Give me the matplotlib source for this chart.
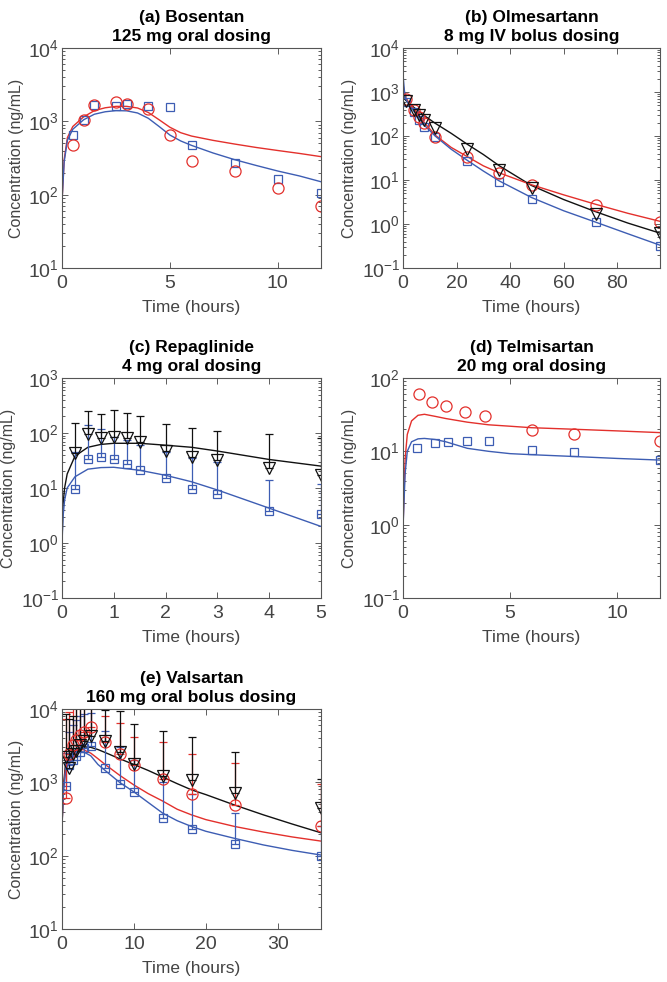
import numpy as np
import matplotlib
matplotlib.use("Agg")
import matplotlib.pyplot as plt
from matplotlib.ticker import LogLocator, NullFormatter

plt.rcParams['font.family'] = ['Liberation Sans', 'DejaVu Sans']
plt.rcParams['mathtext.fontset'] = 'custom'
plt.rcParams['mathtext.rm'] = 'Liberation Sans'

BLUE = '#3D5DB3'
RED = '#E3302C'
BLACK = '#111111'
GREY = '#444444'

# (a) Bosentan
a_t = [0.5, 1, 1.5, 2.5, 3, 4, 5, 6, 8, 10, 12]
a_blue = [650, 1050, 1650, 1600, 1700, 1600, 1550, 480, 270, 165, 105]
a_red = [470, 1050, 1650, 1850, 1700, 1450, 660, 290, 210, 125, 70]
a_line_t = [0, 0.1, 0.25, 0.5, 1, 1.5, 2, 2.5, 3, 3.5, 4, 4.5, 5, 5.5, 6, 7, 8, 9, 10, 11, 12]
a_line_red = [80, 300, 600, 850, 1150, 1400, 1530, 1600, 1600, 1520, 1320, 1050, 830, 700,
              630, 550, 490, 440, 400, 365, 330]
a_line_blue = [80, 280, 550, 780, 1050, 1250, 1350, 1400, 1390, 1300, 1100, 850, 650, 540,
               470, 370, 300, 250, 210, 180, 150]

# (b) Olmesartan
b_t = [1, 4, 6, 8, 12, 24, 36, 48, 72, 96]
b_blue = [600, 357, 231, 163, 97, 27, 9.2, 3.7, 1.13, 0.31]
b_red = [680, 395, 275, 200, 97, 34, 14.2, 7.7, 2.7, 1.13]
b_black = [635, 390, 300, 231, 150, 50, 16.9, 6.5, 1.7, 0.61]
b_line_t = [0, 0.5, 1, 2, 4, 6, 8, 12, 18, 24, 30, 36, 48, 60, 72, 84, 96]
b_line_blue = [2500, 1100, 700, 550, 370, 250, 175, 100, 50, 28, 16, 9.5, 4, 2, 1.1, 0.6, 0.33]
b_line_red = [1500, 1000, 760, 600, 420, 290, 200, 105, 55, 34, 21, 14.5, 7.8, 4.6, 2.8, 1.75, 1.15]
b_line_black = [800, 720, 650, 570, 450, 360, 290, 195, 115, 65, 38, 21, 7.5, 3.6, 1.9, 1.05, 0.62]

# (c) Repaglinide
c_t = [0.25, 0.5, 0.75, 1, 1.25, 1.5, 2, 2.5, 3, 4, 5]
c_blue = [9.5, 34, 37, 33, 27, 21, 15, 9.5, 7.7, 3.8, 3.3]
c_blue_up = [45, 140, 117, 85, 75, 60, 45, 35, 30, 14, 12]
c_black = [44, 96, 80, 83, 82, 68, 47, 36, 32, 23, 17]
c_black_up = [150, 251, 221, 262, 231, 206, 148, 122, 109, 94, 80]
c_line_t = [0, 0.02, 0.05, 0.1, 0.25, 0.5, 0.75, 1, 1.5, 2, 2.5, 3, 4, 5]
c_line_black = [1, 5, 10, 18, 38, 55, 62, 65, 65, 60, 55, 47, 33, 25]
c_line_blue = [1, 3, 6, 10, 16, 22, 23.5, 23.8, 21, 17, 13, 9.2, 4.3, 2.0]

# (d) Telmisartan
d_t_red = [0.75, 1.35, 2, 2.9, 3.85, 6, 8, 12]
d_red = [60, 47.5, 41.5, 34.5, 30, 19.5, 17, 14]
d_t_blue = [0.65, 1.5, 2.1, 3, 4, 6, 8, 12]
d_blue = [11.2, 12.9, 13.3, 13.8, 13.8, 10.4, 9.8, 7.6]
d_line_t = [0, 0.1, 0.2, 0.4, 0.7, 1, 1.5, 2, 3, 4, 5, 6, 8, 10, 12]
d_line_red = [0.9, 8, 17, 26, 31, 32, 30, 28, 25, 23, 22, 21, 20, 19, 18]
d_line_blue = [0.9, 5, 10, 13.5, 14.8, 15, 14.5, 13.5, 11, 10, 9.3, 9, 8.5, 8, 7.6]

# (e) Valsartan
e_t = [0.5, 1, 1.5, 2, 2.5, 3, 4, 6, 8, 10, 14, 18, 24, 36]
e_blue = [900, 1700, 2000, 2300, 2600, 2900, 3100, 1570, 950, 730, 326, 228, 144, 99]
e_blue_up = [2500, 4900, 6000, 7000, 8000, 8500, 8700, 5000, 3000, 2000, 1000, 700, 378, 250]
e_red = [620, 2400, 3200, 3800, 4400, 4900, 5700, 3600, 2430, 1700, 1100, 686, 490, 253]
e_red_up = [7300, 9000, 12000, 15000, 14000, 13000, 11000, 8100, 6400, 4100, 3500, 2400, 1850, 950]
e_black = [2230, 1550, 2400, 2700, 3200, 3700, 4300, 3700, 2560, 1800, 1220, 1070, 720, 440]
e_black_up = [8500, 7300, 8000, 12000, 13000, 14000, 15000, 9700, 9500, 6200, 5000, 4200, 2600, 1100]
e_line_t = [0, 0.2, 0.5, 1, 1.5, 2, 2.5, 3, 4, 5, 6, 8, 10, 12, 14, 16, 18, 20, 24, 28, 32, 36]
e_line_black = [250, 900, 1800, 2300, 2600, 2850, 3000, 3050, 3000, 2800, 2550, 2100, 1750,
                1450, 1180, 960, 790, 680, 490, 360, 270, 205]
e_line_red = [250, 800, 1600, 2100, 2450, 2700, 2800, 2780, 2500, 2100, 1750, 1250, 920, 700,
              555, 430, 360, 310, 250, 210, 180, 158]
e_line_blue = [250, 750, 1400, 1900, 2250, 2500, 2620, 2600, 2300, 1750, 1450, 1000, 740, 530,
               380, 300, 250, 215, 172, 140, 118, 102]

W, H = 667, 982
fig = plt.figure(figsize=(W / 100, H / 100), dpi=100)


def make_ax(left, top, right, bottom):
    return fig.add_axes([left / W, 1 - bottom / H, (right - left) / W, (bottom - top) / H])


def style(ax, title, xlim, ylim, xticks):
    ax.set_yscale('log')
    ax.set_xlim(*xlim)
    ax.set_ylim(*ylim)
    ax.set_xticks(xticks)
    ax.yaxis.set_major_locator(LogLocator(base=10, numticks=10))
    ax.yaxis.set_minor_locator(LogLocator(base=10, subs=np.arange(2, 10), numticks=10))
    ax.yaxis.set_minor_formatter(NullFormatter())
    ax.tick_params(which='both', direction='in', top=True, right=True, colors=GREY,
                   labelsize=14, width=0.6)
    ax.tick_params(which='major', length=4)
    ax.tick_params(axis='x', which='major', pad=5)
    ax.tick_params(axis='y', which='major', pad=2)
    ax.tick_params(which='minor', length=2)
    for s in ax.spines.values():
        s.set_color('#555555')
        s.set_linewidth(0.8)
    ax.set_xlabel('Time (hours)', fontsize=12.5, color=GREY, labelpad=6)
    ax.set_ylabel('Concentration (ng/mL)', fontsize=11.5, color=GREY, labelpad=3)
    ax.set_title(title, fontsize=12.5, fontweight='bold', pad=5, linespacing=1.35)


mk = dict(fillstyle='none', linestyle='none', markeredgewidth=0.9)

# (a)
ax = make_ax(62, 48, 321, 268)
ax.plot(a_line_t, a_line_red, color=RED, lw=1)
ax.plot(a_line_t, a_line_blue, color=BLUE, lw=1)
ax.plot(a_t, a_blue, marker='s', ms=6, color=BLUE, **mk)
ax.plot(a_t, a_red, marker='o', ms=8, color=RED, **mk)
style(ax, '(a) Bosentan\n125 mg oral dosing', (0, 12), (10, 1e4), [0, 5, 10])

# (b)
ax = make_ax(403, 48, 660, 268)
ax.plot(b_line_t, b_line_black, color=BLACK, lw=1)
ax.plot(b_line_t, b_line_red, color=RED, lw=1)
ax.plot(b_line_t, b_line_blue, color=BLUE, lw=1)
ax.plot(b_t, b_blue, marker='s', ms=6, color=BLUE, **mk)
ax.plot(b_t, b_red, marker='o', ms=8, color=RED, **mk)
ax.plot(b_t, b_black, marker='v', ms=9, color=BLACK, **mk)
style(ax, '(b) Olmesartann\n8 mg IV bolus dosing', (0, 96), (0.1, 1e4), [0, 20, 40, 60, 80])

# (c)
ax = make_ax(62, 378, 321, 598)
ax.plot(c_line_t, c_line_black, color=BLACK, lw=1)
ax.plot(c_line_t, c_line_blue, color=BLUE, lw=1)
ax.errorbar(c_t, c_blue, yerr=[np.zeros(len(c_t)), np.array(c_blue_up) - np.array(c_blue)],
            fmt='none', ecolor=BLUE, elinewidth=0.9, capsize=3, capthick=0.9)
ax.errorbar(c_t, c_black, yerr=[np.zeros(len(c_t)), np.array(c_black_up) - np.array(c_black)],
            fmt='none', ecolor=BLACK, elinewidth=0.9, capsize=3, capthick=0.9)
ax.plot(c_t, c_blue, marker='s', ms=6, color=BLUE, **mk)
ax.plot(c_t, c_black, marker='v', ms=9, color=BLACK, **mk)
style(ax, '(c) Repaglinide\n4 mg oral dosing', (0, 5), (0.1, 1e3), [0, 1, 2, 3, 4, 5])

# (d)
ax = make_ax(403, 378, 660, 598)
ax.plot(d_line_t, d_line_red, color=RED, lw=1)
ax.plot(d_line_t, d_line_blue, color=BLUE, lw=1)
ax.plot(d_t_blue, d_blue, marker='s', ms=6, color=BLUE, **mk)
ax.plot(d_t_red, d_red, marker='o', ms=8, color=RED, **mk)
style(ax, '(d) Telmisartan\n20 mg oral dosing', (0, 12), (0.1, 100), [0, 5, 10])

# (e)
ax = make_ax(62, 709, 321, 929)
ax.plot(e_line_t, e_line_black, color=BLACK, lw=1)
ax.plot(e_line_t, e_line_red, color=RED, lw=1)
ax.plot(e_line_t, e_line_blue, color=BLUE, lw=1)
for ys, up, col in [(e_blue, e_blue_up, BLUE), (e_red, e_red_up, RED), (e_black, e_black_up, BLACK)]:
    ax.errorbar(e_t, ys, yerr=[np.zeros(len(e_t)), np.array(up) - np.array(ys)],
                fmt='none', ecolor=col, elinewidth=0.9, capsize=3, capthick=0.9)
ax.plot(e_t, e_blue, marker='s', ms=6, color=BLUE, **mk)
ax.plot(e_t, e_red, marker='o', ms=8, color=RED, **mk)
ax.plot(e_t, e_black, marker='v', ms=9, color=BLACK, **mk)
style(ax, '(e) Valsartan\n160 mg oral bolus dosing', (0, 36), (10, 1e4), [0, 10, 20, 30])

fig.savefig('out.png', dpi=100)
